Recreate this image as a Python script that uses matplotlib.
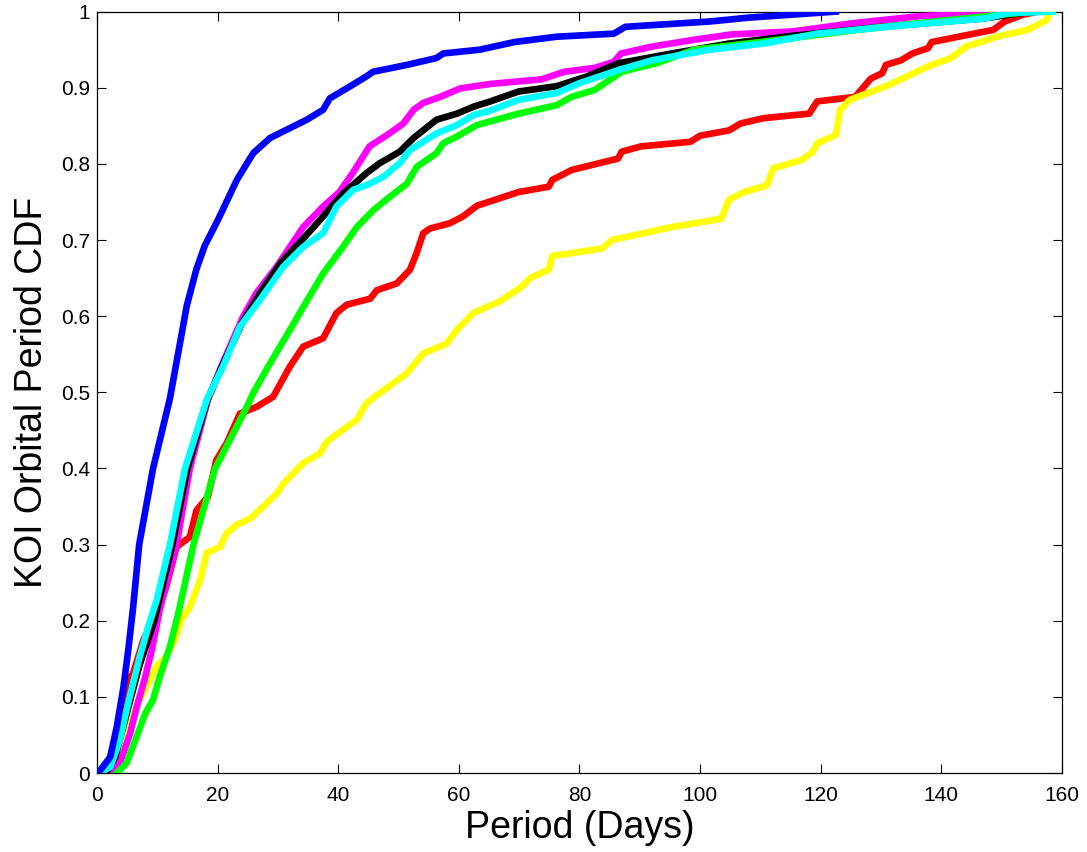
import matplotlib
matplotlib.use("Agg")
import matplotlib.pyplot as plt

plt.rcParams['font.family'] = ['Liberation Sans', 'DejaVu Sans']

# CDF curves (period in days, cumulative fraction)
blue_x = [0, 0.5, 2.2, 3.3, 4.4, 5.2, 6.0, 7.0, 9.3, 12.1, 13.5, 14.9, 16.5, 17.9, 20.1, 23.2, 25.9,
          28.7, 32.0, 34.8, 37.5, 38.6, 42.0, 44.7, 45.8, 51.4, 56.3, 57.4, 63.5, 69.2, 76.2, 85.7,
          87.6, 101.6, 108, 122.5]
blue_y = [0, 0.003, 0.021, 0.061, 0.113, 0.162, 0.218, 0.30, 0.40, 0.492, 0.553, 0.614, 0.662, 0.693,
          0.727, 0.779, 0.814, 0.834, 0.847, 0.858, 0.871, 0.886, 0.902, 0.915, 0.921, 0.930, 0.939,
          0.945, 0.950, 0.960, 0.967, 0.971, 0.980, 0.987, 0.992, 1.0]

magenta_x = [2.2, 3.8, 5.5, 6.6, 8.0, 9.1, 10.4, 13.2, 15.4, 18.4, 20.6, 24.2, 26.4, 29.8, 32.0, 34.2,
             37.5, 40.2, 42.4, 45.2, 48.5, 50.8, 52.5, 54.1, 56.9, 60.2, 65.2, 73.7, 77.5, 82.5, 85.7,
             86.9, 92.0, 99.0, 105.2, 115.4, 125.6, 136.4, 149, 152]
magenta_y = [0, 0.013, 0.052, 0.087, 0.126, 0.162, 0.214, 0.30, 0.40, 0.49, 0.534, 0.599, 0.630, 0.665,
             0.691, 0.717, 0.744, 0.763, 0.788, 0.823, 0.840, 0.853, 0.871, 0.880, 0.888, 0.899, 0.905,
             0.911, 0.921, 0.926, 0.934, 0.945, 0.954, 0.963, 0.970, 0.974, 0.985, 0.994, 0.998, 1.0]

black_x = [1.5, 3, 5, 7, 9.5, 12.5, 15, 18.3, 20.8, 24, 27, 30.5, 34, 37.5, 40.8, 44.7, 46.9, 50.2,
           52.5, 56.3, 59.7, 62.4, 65.2, 69.9, 76.2, 81.3, 86.4, 95.3, 104.8, 115, 130, 147, 155]
black_y = [0, 0.02, 0.08, 0.14, 0.2, 0.3, 0.4, 0.49, 0.535, 0.59, 0.63, 0.67, 0.70, 0.731, 0.761,
           0.788, 0.801, 0.816, 0.834, 0.858, 0.866, 0.875, 0.882, 0.895, 0.902, 0.915, 0.932, 0.945,
           0.958, 0.968, 0.980, 0.991, 1.0]

green_x = [3.3, 4.9, 6.6, 8.0, 9.3, 10.4, 12.1, 13.5, 16.0, 19.6, 24.8, 25.9, 28.7, 32.0, 34.2, 37.5,
           40.8, 43.1, 45.8, 48.6, 51.4, 53.0, 56.3, 57.4, 59.7, 63.0, 69.9, 76.2, 78.7, 82.5, 87.0,
           92.7, 99.0, 110, 125, 140, 155]
green_y = [0, 0.013, 0.048, 0.078, 0.096, 0.126, 0.166, 0.210, 0.30, 0.40, 0.48, 0.499, 0.538, 0.582,
           0.612, 0.656, 0.691, 0.717, 0.739, 0.757, 0.774, 0.796, 0.814, 0.827, 0.836, 0.851, 0.866,
           0.877, 0.888, 0.897, 0.921, 0.932, 0.950, 0.960, 0.975, 0.988, 1.0]

cyan_x = [0.5, 2.2, 3.8, 4.9, 6.0, 7.1, 8.5, 9.9, 12.1, 14.6, 18.2, 20.9, 23.7, 27.0, 30.9, 34.2, 37.5,
          39.7, 42.5, 44.7, 47.5, 50.2, 51.9, 56.3, 59.7, 62.4, 65.2, 69.9, 76.2, 80.0, 86.4, 92.0,
          101.6, 110.5, 119.4, 130.8, 147.3, 151, 158.5]
cyan_y = [0, 0.008, 0.043, 0.083, 0.118, 0.153, 0.192, 0.227, 0.30, 0.40, 0.49, 0.534, 0.586, 0.621,
          0.665, 0.691, 0.709, 0.744, 0.766, 0.772, 0.783, 0.801, 0.818, 0.840, 0.851, 0.864, 0.870,
          0.884, 0.893, 0.906, 0.923, 0.936, 0.950, 0.958, 0.971, 0.980, 0.991, 0.998, 1.0]

red_x = [0.8, 2.2, 3.5, 4.4, 5.2, 6.0, 7.7, 10, 11.5, 13.2, 15.4, 16.5, 18.4, 19.8, 21.5, 23.7, 26.5,
         29.2, 32.0, 34.2, 37.5, 39.7, 41.4, 45.3, 46.4, 49.7, 51.9, 53.0, 54.1, 55.2, 58.5, 60.7, 63.0,
         69.9, 74.9, 75.5, 78.7, 86.4, 87.0, 90.2, 98.4, 100.0, 104.8, 106.7, 110.5, 118.1, 119.4,
         125.7, 127, 128.3, 130.2, 130.8, 133.3, 135.2, 137.8, 138.4, 148.6, 150.5, 153.6, 156]
red_y = [0, 0.02, 0.061, 0.100, 0.122, 0.131, 0.175, 0.21, 0.245, 0.297, 0.310, 0.345, 0.363, 0.411,
         0.433, 0.472, 0.481, 0.494, 0.534, 0.560, 0.571, 0.604, 0.615, 0.623, 0.634, 0.643, 0.661,
         0.683, 0.709, 0.715, 0.722, 0.731, 0.745, 0.763, 0.770, 0.779, 0.792, 0.807, 0.816, 0.823,
         0.829, 0.837, 0.844, 0.853, 0.860, 0.866, 0.882, 0.888, 0.900, 0.912, 0.919, 0.930, 0.936,
         0.945, 0.952, 0.960, 0.976, 0.987, 0.996, 1.0]

yellow_x = [2.5, 4, 5.5, 7.1, 8.5, 9.9, 11.5, 12.9, 14.0, 15.4, 17.1, 18.2, 20.4, 21.5, 23.2, 25.4,
            28.1, 29.8, 30.9, 34.2, 37.0, 38.1, 40.3, 43.1, 44.7, 46.9, 51.4, 54.1, 58.0, 59.7, 62.4,
            65.2, 66.7, 70.5, 71.8, 74.9, 75.5, 83.8, 85.4, 95.3, 103.5, 104.8, 107.3, 111.1, 112.1,
            116.8, 118.7, 119.4, 122.5, 123.2, 124.8, 131.4, 137.8, 141.6, 144.1, 149.2, 154.3,
            157.5, 158]
yellow_y = [0, 0.03, 0.065, 0.096, 0.118, 0.140, 0.153, 0.175, 0.201, 0.218, 0.253, 0.289, 0.297,
            0.315, 0.326, 0.334, 0.354, 0.367, 0.380, 0.407, 0.420, 0.435, 0.448, 0.464, 0.486, 0.499,
            0.525, 0.551, 0.564, 0.582, 0.604, 0.614, 0.619, 0.639, 0.650, 0.661, 0.679, 0.689, 0.700,
            0.717, 0.728, 0.753, 0.763, 0.772, 0.794, 0.805, 0.816, 0.827, 0.838, 0.871, 0.884, 0.904,
            0.928, 0.939, 0.954, 0.967, 0.976, 0.989, 1.0]

x_ticks = [0, 20, 40, 60, 80, 100, 120, 140, 160]
y_ticks = [0, 0.1, 0.2, 0.3, 0.4, 0.5, 0.6, 0.7, 0.8, 0.9, 1]
y_tick_labels = ['0', '0.1', '0.2', '0.3', '0.4', '0.5', '0.6', '0.7', '0.8', '0.9', '1']

fig = plt.figure(figsize=(10.87, 8.52), dpi=100)
ax = fig.add_axes([0.0892, 0.0927, 0.8878, 0.8937])

lw = 4.8
ax.plot(red_x, red_y, color='#ff0000', linewidth=lw, zorder=1)
ax.plot(yellow_x, yellow_y, color='#ffff00', linewidth=lw, zorder=2)
ax.plot(magenta_x, magenta_y, color='#ff00ff', linewidth=lw, zorder=3)
ax.plot(black_x, black_y, color='#000000', linewidth=lw, zorder=4)
ax.plot(green_x, green_y, color='#00ff00', linewidth=lw, zorder=5)
ax.plot(cyan_x, cyan_y, color='#00ffff', linewidth=lw, zorder=6)
ax.plot(blue_x, blue_y, color='#0000ff', linewidth=lw, zorder=7)

ax.set_xlim(0, 160)
ax.set_ylim(0, 1)
ax.set_xticks(x_ticks)
ax.set_yticks(y_ticks)
ax.set_yticklabels(y_tick_labels)
ax.tick_params(direction='in', length=6.5, width=0.8, top=True, right=True, labelsize=15)
ax.tick_params(axis='x', pad=9)
ax.tick_params(axis='y', pad=5)
for s in ax.spines.values():
    s.set_linewidth(0.9)

ax.set_xlabel('Period (Days)', fontsize=27, labelpad=4)
ax.set_ylabel('KOI Orbital Period CDF', fontsize=27, labelpad=8)

plt.savefig('out.png', dpi=100)
